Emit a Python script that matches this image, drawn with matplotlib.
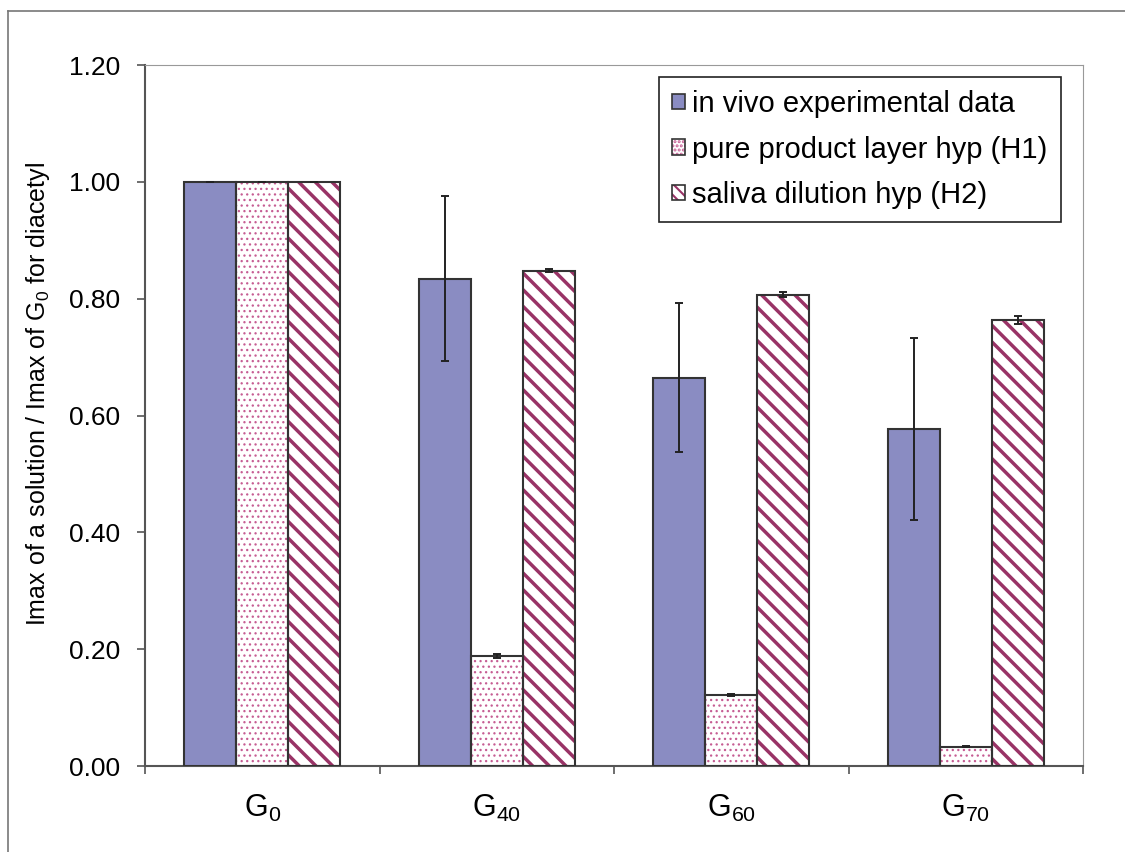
import numpy as np
import matplotlib
matplotlib.use('Agg')
import matplotlib.pyplot as plt
from matplotlib.lines import Line2D
from matplotlib.patches import Patch
from matplotlib.legend_handler import HandlerTuple

plt.rcParams['font.family'] = ['Liberation Sans', 'DejaVu Sans']
plt.rcParams['mathtext.fontset'] = 'custom'
plt.rcParams['mathtext.rm'] = 'Liberation Sans'
plt.rcParams['mathtext.it'] = 'Liberation Sans'

# Data
categories = ['$\\mathrm{G_{0}}$', '$\\mathrm{G_{40}}$', '$\\mathrm{G_{60}}$', '$\\mathrm{G_{70}}$']
series_names = ['in vivo experimental data', 'pure product layer hyp (H1)', 'saliva dilution hyp (H2)']
in_vivo = [1.00, 0.834, 0.665, 0.577]
in_vivo_err = [0.0, 0.141, 0.127, 0.155]
h1 = [1.00, 0.188, 0.122, 0.033]
h1_err = [0.0, 0.003, 0.002, 0.001]
h2 = [1.00, 0.848, 0.807, 0.763]
h2_err = [0.0, 0.003, 0.004, 0.007]

fig = plt.figure(figsize=(11.25, 8.52), dpi=100)
ax = fig.add_axes([0.1289, 0.1009, 0.8338, 0.8228])

x = np.arange(len(categories))
w = 0.222
edge = '#333333'
blue = '#8A8CC2'
dot_col = '#C65D93'
stripe_col = '#993366'
dot_hatch = '...'
stripe_hatch = '\\\\'


def hatched_bars(pos, vals, hatch, hcolor, hlw):
    plt.rcParams['hatch.linewidth'] = hlw
    bars = ax.bar(pos, vals, width=w, facecolor='white', edgecolor=hcolor,
                  linewidth=0, hatch=hatch, zorder=2)
    for b in bars:
        if hasattr(b, 'set_hatch_linewidth'):
            b.set_hatch_linewidth(hlw)
    return bars


# in vivo (solid)
ax.bar(x - w, in_vivo, width=w, color=blue, edgecolor=edge, linewidth=1.5, zorder=3)
# H1 (dots)
hatched_bars(x, h1, dot_hatch, dot_col, 0.9)
ax.bar(x, h1, width=w, facecolor='none', edgecolor=edge, linewidth=1.5, zorder=3)
# H2 (stripes)
hatched_bars(x + w, h2, stripe_hatch, stripe_col, 2.5)
ax.bar(x + w, h2, width=w, facecolor='none', edgecolor=edge, linewidth=1.5, zorder=3)

# error bars
for pos, vals, err in [(x - w, in_vivo, in_vivo_err), (x, h1, h1_err), (x + w, h2, h2_err)]:
    ax.errorbar(pos, vals, yerr=err, fmt='none', ecolor='#222222', elinewidth=1.4,
                capsize=3, capthick=1.4, zorder=4)

ax.set_xlim(-0.5, len(categories) - 0.5)
ax.set_ylim(0, 1.2)
yt = np.arange(0, 1.21, 0.2)
ax.set_yticks(yt)
ax.set_yticklabels([f'{v:.2f}' for v in yt], fontsize=19)
ax.tick_params(axis='y', direction='out', length=6, width=1.2, color='#555555', pad=12)

ax.set_xticks(np.arange(-0.5, len(categories), 1.0))
ax.set_xticklabels([])
ax.set_xticks(x, minor=True)
ax.set_xticklabels(categories, minor=True, fontsize=22)
ax.tick_params(axis='x', which='major', direction='out', length=6, width=1.2, color='#555555')
ax.tick_params(axis='x', which='minor', length=0, pad=19)

ax.spines['left'].set_color('#555555')
ax.spines['left'].set_linewidth(1.5)
ax.spines['bottom'].set_color('#555555')
ax.spines['bottom'].set_linewidth(1.5)
ax.spines['top'].set_color('#999999')
ax.spines['right'].set_color('#999999')

ax.set_ylabel('Imax of a solution / Imax of $\\mathrm{G_{0}}$ for diacetyl', fontsize=18, labelpad=8)
ax.yaxis.set_label_coords(-0.099, 0.53)

# legend
plt.rcParams['hatch.linewidth'] = 1.5
hp2 = Patch(facecolor='white', edgecolor=dot_col, linewidth=0, hatch='....')
hp3 = Patch(facecolor='white', edgecolor=stripe_col, linewidth=0, hatch='\\\\\\')
op = Patch(facecolor='none', edgecolor=edge, linewidth=1.2)
handles = [Patch(facecolor=blue, edgecolor=edge, linewidth=1.2), (hp2, op), (hp3, op)]
leg = ax.legend(handles, series_names, loc='upper right', bbox_to_anchor=(0.976, 0.983),
                fontsize=21, handlelength=0.45, handleheight=0.45, handletextpad=0.25,
                labelspacing=0.6, borderpad=0.45, borderaxespad=0, fancybox=False, framealpha=1,
                handler_map={tuple: HandlerTuple(ndivide=1)})
leg.get_frame().set_edgecolor('#222222')
leg.get_frame().set_linewidth(1.2)

# outer frame (top and left visible)
fig.add_artist(Line2D([8 / 1125, 1.0], [1 - 11 / 852, 1 - 11 / 852], color='#777777', linewidth=1.2))
fig.add_artist(Line2D([8 / 1125, 8 / 1125], [0.0, 1 - 11 / 852], color='#777777', linewidth=1.2))

fig.savefig('out.png', dpi=100)
